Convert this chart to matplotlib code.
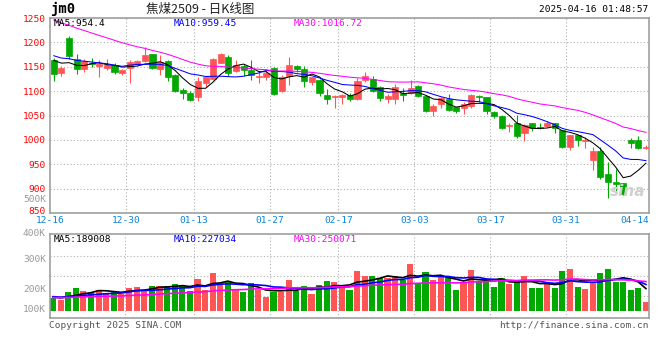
import numpy as np
import pandas as pd
import matplotlib
matplotlib.use("Agg")
import matplotlib.pyplot as plt

# ── data ─────────────────────────────────────────────────────────────
date_labels = ["12-16", "12-30", "01-13", "01-27", "02-17", "03-03", "03-17", "03-31", "04-14"]
date_idx = [0, 10, 19, 29, 38, 48, 58, 68, 77]
grid_idx = [10, 19, 29, 38, 48, 58, 68]
price_ticks = [850, 900, 950, 1000, 1050, 1100, 1150, 1200, 1250]

opens = [1164, 1138, 1210, 1166, 1145, 1158, 1152, 1147, 1154, 1137,
         1147, 1156, 1162, 1176, 1145, 1162, 1133, 1103, 1097, 1088,
         1117, 1124, 1158, 1170, 1141, 1152, 1143, 1130, 1130, 1148,
         1100, 1132, 1152, 1145, 1119, 1123, 1093, 1087, 1088, 1093,
         1084, 1123, 1125, 1108, 1084, 1084, 1097, 1097, 1110, 1091,
         1060, 1073, 1083, 1068, 1065, 1070, 1090, 1087, 1058, 1049,
         1028, 1035, 1015, 1035, 1027, 1029, 1034, 1020, 985, 1009,
         997, 959, 977, 930, 914, 911, 1000, 1000, 983]
closes = [1135, 1147, 1173, 1145, 1162, 1155, 1156, 1153, 1140, 1143,
          1159, 1162, 1174, 1148, 1159, 1128, 1101, 1097, 1082, 1121,
          1128, 1166, 1176, 1138, 1154, 1143, 1133, 1132, 1137, 1095,
          1128, 1154, 1145, 1121, 1128, 1097, 1084, 1091, 1093, 1084,
          1121, 1132, 1100, 1085, 1089, 1108, 1092, 1106, 1091, 1060,
          1070, 1085, 1061, 1060, 1074, 1093, 1087, 1060, 1048, 1025,
          1030, 1008, 1031, 1024, 1024, 1035, 1024, 985, 1009, 1000,
          999, 977, 923, 914, 909, 889, 994, 983, 986]
highs = [1168, 1151, 1214, 1177, 1165, 1168, 1163, 1165, 1157, 1146,
         1164, 1164, 1190, 1177, 1174, 1164, 1135, 1107, 1100, 1130,
         1131, 1168, 1179, 1174, 1164, 1156, 1164, 1140, 1145, 1150,
         1134, 1169, 1154, 1152, 1128, 1124, 1104, 1092, 1094, 1096,
         1126, 1140, 1131, 1110, 1095, 1114, 1107, 1123, 1112, 1092,
         1074, 1087, 1094, 1068, 1078, 1094, 1092, 1087, 1059, 1051,
         1034, 1051, 1032, 1035, 1034, 1039, 1034, 1020, 1009, 1009,
         1005, 985, 986, 955, 940, 911, 1003, 1007, 989]
lows = [1121, 1131, 1165, 1135, 1140, 1150, 1130, 1143, 1136, 1133,
        1116, 1153, 1160, 1146, 1133, 1121, 1099, 1084, 1080, 1080,
        1109, 1122, 1158, 1132, 1140, 1132, 1123, 1116, 1123, 1093,
        1099, 1112, 1140, 1109, 1113, 1091, 1074, 1066, 1073, 1080,
        1082, 1119, 1099, 1080, 1076, 1074, 1080, 1095, 1087, 1058,
        1049, 1065, 1060, 1056, 1053, 1065, 1078, 1053, 1044, 1022,
        1017, 1004, 998, 1018, 1023, 1027, 1015, 983, 979, 987,
        983, 938, 920, 881, 894, 887, 983, 981, 981]
# volume in thousands of lots
volumes = [109, 92, 166, 201, 175, 155, 181, 158, 166, 143,
           201, 209, 181, 215, 215, 215, 232, 215, 175, 278,
           181, 330, 244, 252, 189, 166, 244, 181, 123, 160,
           160, 270, 175, 215, 146, 224, 261, 246, 209, 181,
           344, 301, 301, 281, 281, 301, 267, 404, 244, 333,
           267, 290, 301, 181, 252, 353, 261, 275, 206, 281,
           232, 246, 301, 201, 201, 232, 201, 344, 361, 206,
           189, 238, 324, 361, 252, 252, 181, 201, 77]

# sessions before 12-16, only needed so the moving averages start where the chart shows them
pre_close = [1325, 1318, 1322, 1310, 1305, 1312, 1298, 1290, 1295, 1286,
             1280, 1272, 1278, 1265, 1260, 1255, 1262, 1248, 1240, 1229,
             1195, 1186, 1180, 1178, 1172, 1175, 1168, 1172, 1165]
pre_volume = [110, 105, 120, 98, 115, 102, 125, 108, 118, 112,
              96, 121, 109, 117, 104, 113, 126, 100, 119, 107,
              130, 118, 142, 125, 120, 128, 115, 135, 112]

ma_price_text = ["MA5:954.4", "MA10:959.45", "MA30:1016.72"]
ma_vol_text = ["MA5:189008", "MA10:227034", "MA30:250071"]
vol_labels = ["500K", "400K", "300K", "200K", "100K"]
vol_label_y = [200, 233, 260, 290, 310]   # pixel rows where Sina prints them

# ── style ────────────────────────────────────────────────────────────
W, H = 660, 360
RED, GREEN = "#ff5555", "#00a800"
MA_COLORS = ["#000000", "#0000ff", "#ff00ff"]
GRID = "#b0b0b0"
FRAME = "#a0a0a0"
MONO = "DejaVu Sans Mono"
FS = 6.8
plt.rcParams["font.family"] = ["Noto Sans CJK SC", "DejaVu Sans"]

n = len(closes)
x = np.arange(n)
all_close = pd.Series(pre_close + closes, dtype=float)
all_vol = pd.Series(pre_volume + volumes, dtype=float) * 1000
ma_price = [all_close.rolling(w).mean().to_numpy()[-n:] for w in (5, 10, 30)]
ma_vol = [all_vol.rolling(w).mean().to_numpy()[-n:] for w in (5, 10, 30)]


def px_axes(fig, left, top, right, bottom):
    return fig.add_axes([left / W, 1 - bottom / H, (right - left) / W, (bottom - top) / H])


def px_text(fig, px, py, s, **kw):
    fig.text(px / W, 1 - py / H, s, va="center", **kw)


def frame(ax):
    for sp in ax.spines.values():
        sp.set_color(FRAME)
        sp.set_linewidth(1.2)
    ax.set_xlim(-0.4, n - 0.6)
    for i in grid_idx:
        ax.axvline(i - 0.5, color=GRID, lw=0.8, ls=(0, (1, 2)), zorder=0)


fig = plt.figure(figsize=(W / 100, H / 100), dpi=100)

# price panel
ax = px_axes(fig, 50, 18, 649, 213)
frame(ax)
ax.set_ylim(price_ticks[0], price_ticks[-1])
ax.set_yticks(price_ticks)
# the bottom label sits a little higher in the original, drawn separately below
ax.set_yticklabels([""] + [str(v) for v in price_ticks[1:]], family=MONO)
ax.tick_params(axis="y", length=0, pad=3, labelcolor="#ff0000", labelsize=FS)
ax.grid(axis="y", color=GRID, lw=0.8, ls=(0, (1, 2)))
ax.set_xticks([i - 0.5 for i in date_idx])
ax.set_xticklabels(date_labels, family=MONO, fontsize=FS, color="#0a84d8")
ax.tick_params(axis="x", length=0, pad=2.5)

up = np.array(closes) >= np.array(opens)
colors = np.where(up, RED, GREEN)
ax.vlines(x, lows, highs, colors=colors, lw=0.8, zorder=2)
body = np.abs(np.array(closes) - np.array(opens))
ax.bar(x, body, bottom=np.minimum(opens, closes), width=0.8, color=colors,
       edgecolor=colors, linewidth=0.5, zorder=3)
for ma, c in zip(ma_price, MA_COLORS):
    ax.plot(x, ma, color=c, lw=0.75, zorder=4)

# volume panel
av = px_axes(fig, 50, 234, 649, 318)
frame(av)
av.set_ylim(-60000, 662000)
av.set_yticks([129000, 301000, 473000])
av.set_yticklabels([])
av.tick_params(length=0)
av.set_xticks([])
av.grid(axis="y", color=GRID, lw=0.8, ls=(0, (1, 2)))
av.bar(x, np.array(volumes) * 1000, width=0.8, color=colors, zorder=2)
for ma, c in zip(ma_vol, MA_COLORS):
    av.plot(x, ma, color=c, lw=1.2, zorder=3)

# texts
px_text(fig, 46, 211, str(price_ticks[0]), family=MONO, fontsize=FS, color="#ff0000", ha="right")
px_text(fig, 50, 9, "jm0", family=MONO, fontsize=10, fontweight="bold")
px_text(fig, 200, 9, "焦煤2509 - 日K线图", family="Noto Sans CJK SC", fontsize=9,
        ha="center", color="#222222")
px_text(fig, 648, 9, "2025-04-16 01:48:57", family=MONO, fontsize=FS, ha="right")
for s, c, px in zip(ma_price_text, MA_COLORS, (54, 174, 294)):
    px_text(fig, px, 23, s, family=MONO, fontsize=FS, color=c)
for s, c, px in zip(ma_vol_text, MA_COLORS, (54, 174, 294)):
    px_text(fig, px, 240, s, family=MONO, fontsize=FS, color=c)
for s, py in zip(vol_labels, vol_label_y):
    px_text(fig, 46, py, s, family=MONO, fontsize=FS, color="#999999", ha="right")
px_text(fig, 49, 325, "Copyright 2025 SINA.COM", family=MONO, fontsize=FS, color="#555555")
px_text(fig, 649, 325, "http://finance.sina.com.cn", family=MONO, fontsize=FS,
        color="#555555", ha="right")
px_text(fig, 628, 192, "sina", family="DejaVu Sans", fontsize=11, style="italic",
        fontweight="bold", color="#d0d0d0", ha="center")

fig.savefig("out.png", dpi=100)
